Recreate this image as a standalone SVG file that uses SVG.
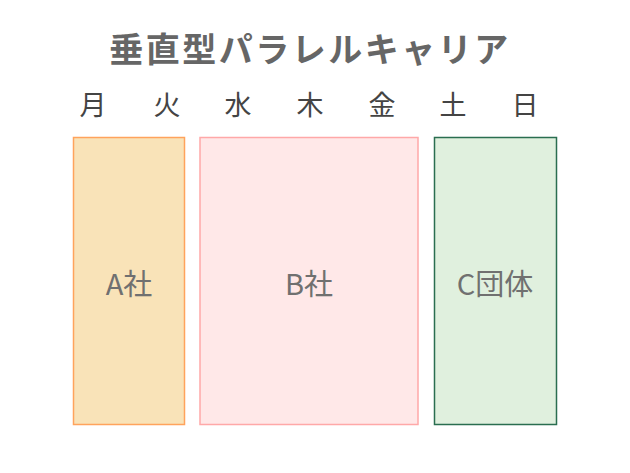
<svg xmlns="http://www.w3.org/2000/svg" width="630" height="473" viewBox="0 0 630 473">
<style>
.title{font-family:"Noto Sans CJK JP","Noto Sans",sans-serif;font-weight:bold;font-size:34px;letter-spacing:2.5px;fill:#666666;text-anchor:middle}
.day{font-family:"Noto Sans CJK JP","Noto Sans",sans-serif;font-size:27px;fill:#444444;text-anchor:middle}
.lbl{font-family:"Noto Sans CJK JP","Noto Sans",sans-serif;font-size:29px;fill:#707070;text-anchor:middle}
.box{stroke-width:1.5}
</style>
<rect width="630" height="473" fill="#ffffff"/>
<text class="title" x="310" y="62">垂直型パラレルキャリア</text>
<g id="days">
<text class="day" x="93" y="115">月</text>
<text class="day" x="167" y="115">火</text>
<text class="day" x="238" y="115">水</text>
<text class="day" x="310" y="115">木</text>
<text class="day" x="382" y="115">金</text>
<text class="day" x="453" y="115">土</text>
<text class="day" x="525" y="115">日</text>
</g>
<g id="nodeA">
<rect class="box" x="73.5" y="137.5" width="111" height="287" fill="#F9E3B8" stroke="#FFA35C"/>
<text class="lbl" x="129" y="295">A社</text>
</g>
<g id="nodeB">
<rect class="box" x="200" y="137.5" width="218" height="287" fill="#FFE8E8" stroke="#FFA8A8"/>
<text class="lbl" x="309" y="295">B社</text>
</g>
<g id="nodeC">
<rect class="box" x="434.5" y="137.5" width="122" height="287" fill="#E0F0DE" stroke="#2A6E50"/>
<text class="lbl" x="495" y="295">C団体</text>
</g>
<g id="connectors"/>
</svg>
